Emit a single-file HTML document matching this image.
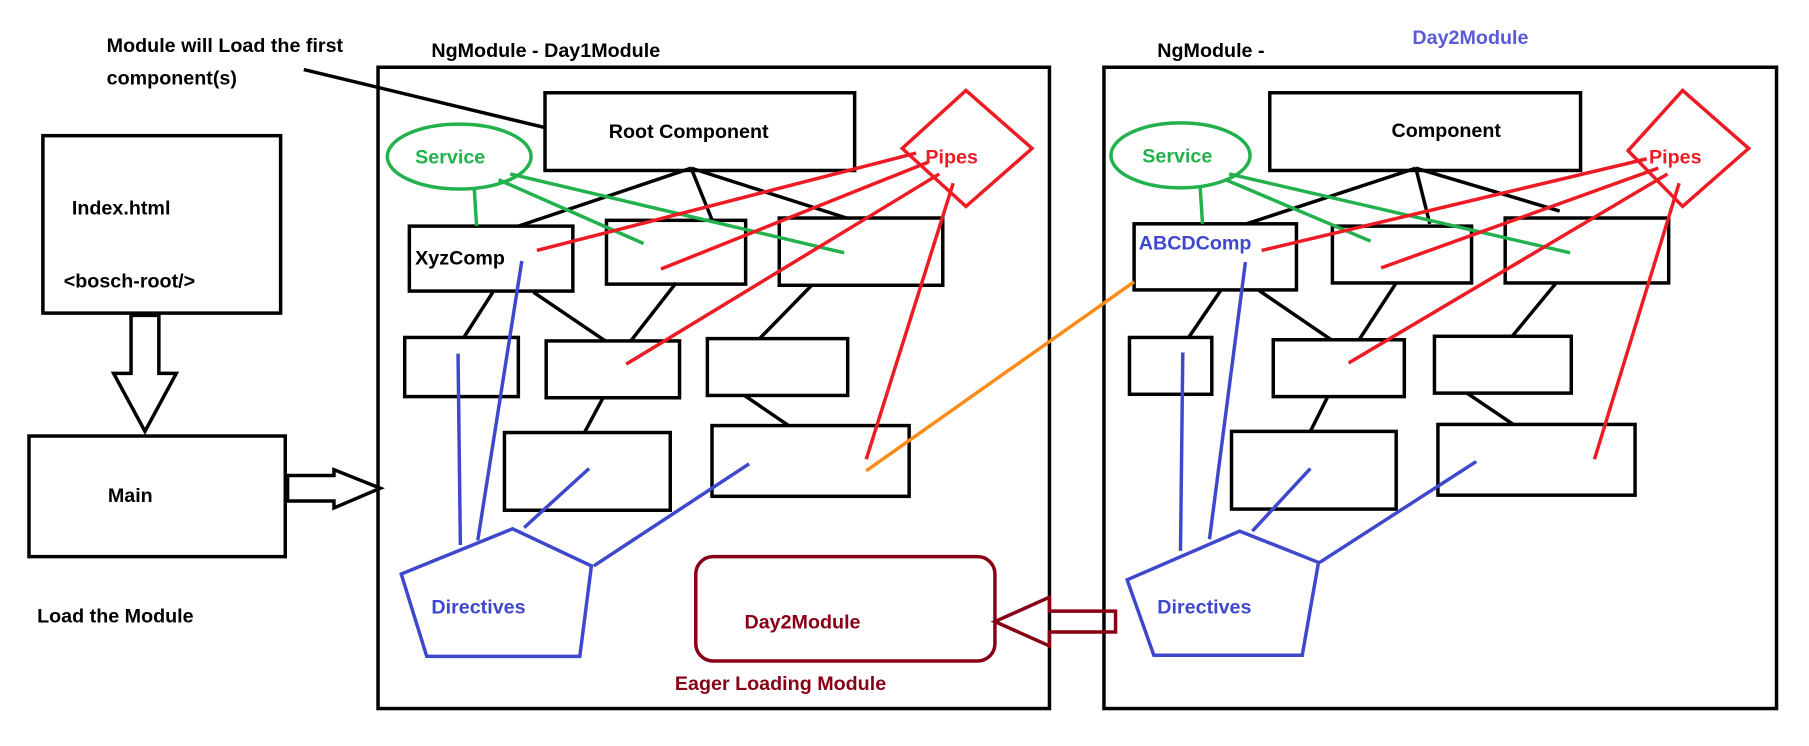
<!DOCTYPE html>
<html><head><meta charset="utf-8"><style>
html,body{margin:0;padding:0;background:#fff;}
svg{display:block;}
text{font-family:"Liberation Sans",sans-serif;font-weight:bold;font-size:17px;}
</style></head><body>
<svg width="1809" height="746" viewBox="0 0 1560 643.3" preserveAspectRatio="none" xmlns="http://www.w3.org/2000/svg">
<rect width="1560" height="644" fill="#fff"/>
<g fill="none" stroke="#000" stroke-width="3">
<rect x="326" y="58" width="579" height="553"/>
<rect x="952" y="58" width="580" height="553"/>
<rect x="37" y="117" width="205" height="153"/>
<rect x="25" y="376" width="221" height="104"/>
<polygon points="113,272 137,272 137,322 152,322 125,372 98,322 113,322"/>
<polygon points="248,410 288,410 288,405 328,421 288,438 288,432 248,432"/>
<line x1="262" y1="60" x2="470" y2="110"/>
<rect x="470" y="80" width="267" height="67"/>
<rect x="353" y="195" width="141" height="56"/>
<rect x="523" y="190" width="120" height="55"/>
<rect x="672" y="188" width="141" height="58"/>
<rect x="349" y="291" width="98" height="51"/>
<rect x="471" y="294" width="115" height="49"/>
<rect x="610" y="292" width="121" height="49"/>
<rect x="435" y="373" width="143" height="67"/>
<rect x="614" y="367" width="170" height="61"/>
<line x1="596" y1="145" x2="447" y2="195"/><line x1="596" y1="145" x2="615" y2="192"/><line x1="596" y1="145" x2="730" y2="188"/>
<line x1="425" y1="252" x2="400" y2="291"/><line x1="460" y1="252" x2="522" y2="294"/>
<line x1="583" y1="244" x2="544" y2="294"/><line x1="700" y1="246" x2="655" y2="292"/>
<line x1="520" y1="343" x2="504" y2="373"/><line x1="642" y1="341" x2="680" y2="367"/>
<rect x="1095" y="80" width="268" height="67"/>
<rect x="978" y="193" width="140" height="57"/>
<rect x="1149" y="195" width="120" height="49"/>
<rect x="1298" y="188" width="141" height="56"/>
<rect x="974" y="291" width="71" height="49"/>
<rect x="1098" y="293" width="113" height="49"/>
<rect x="1237" y="290" width="118" height="49"/>
<rect x="1062" y="372" width="142" height="67"/>
<rect x="1240" y="366" width="170" height="61"/>
<line x1="1221" y1="145" x2="1075" y2="193"/><line x1="1221" y1="145" x2="1233" y2="193"/><line x1="1221" y1="145" x2="1345" y2="182"/>
<line x1="1053" y1="250" x2="1025" y2="291"/><line x1="1085" y1="250" x2="1148" y2="293"/>
<line x1="1204" y1="244" x2="1172" y2="293"/><line x1="1342" y1="244" x2="1304" y2="290"/>
<line x1="1145" y1="342" x2="1130" y2="372"/><line x1="1265" y1="339" x2="1305" y2="366"/>
</g>
<g fill="none" stroke="#22b14c" stroke-width="3">
<ellipse cx="396" cy="135" rx="62" ry="28"/>
<line x1="409" y1="163" x2="411" y2="195"/><line x1="430" y1="155" x2="555" y2="210"/><line x1="440" y1="150" x2="728" y2="218"/>
<ellipse cx="1018" cy="134" rx="60" ry="28"/>
<line x1="1035" y1="162" x2="1037" y2="193"/><line x1="1057" y1="155" x2="1182" y2="208"/><line x1="1060" y1="150" x2="1354" y2="218"/>
</g>
<g fill="none" stroke="#ed1c24" stroke-width="3">
<polygon points="833,78 890,128 833,178 778,128"/>
<line x1="790" y1="132" x2="463" y2="216"/><line x1="800" y1="140" x2="570" y2="232"/><line x1="810" y1="150" x2="540" y2="314"/><line x1="822" y1="158" x2="747" y2="396"/>
<polygon points="1451,78 1508,128 1451,178 1404,130"/>
<line x1="1420" y1="137" x2="1088" y2="216"/><line x1="1430" y1="145" x2="1191" y2="231"/><line x1="1438" y1="150" x2="1163" y2="313"/><line x1="1448" y1="158" x2="1375" y2="396"/>
</g>
<line x1="747" y1="406" x2="978" y2="243" stroke="#ff8c1a" stroke-width="3"/>
<g fill="none" stroke="#3f48cc" stroke-width="3">
<polygon points="346,495 442,456 510,488 500,566 368,566"/>
<line x1="395" y1="305" x2="397" y2="470"/><line x1="450" y1="225" x2="412" y2="466"/><line x1="508" y1="404" x2="452" y2="455"/><line x1="646" y1="400" x2="512" y2="488"/>
<polygon points="972,500 1069,458 1137,485 1123,565 995,565"/>
<line x1="1020" y1="304" x2="1018" y2="475"/><line x1="1074" y1="226" x2="1043" y2="465"/><line x1="1130" y1="404" x2="1080" y2="458"/><line x1="1273" y1="398" x2="1138" y2="485"/>
</g>
<rect x="600" y="480" width="258" height="90" rx="15" fill="none" stroke="#880015" stroke-width="3"/>
<polygon points="962,527 962,545 905,545 905,557 858,536 905,515 905,527" fill="none" stroke="#880015" stroke-width="3"/>
<text x="92" y="45">Module will Load the first</text>
<text x="92" y="73">component(s)</text>
<text x="372" y="49" font-size="18">NgModule - Day1Module</text>
<text x="998" y="49" font-size="18">NgModule -</text>
<text x="1218" y="38" fill="#5a5ad8">Day2Module</text>
<text x="62" y="185">Index.html</text>
<text x="55" y="248">&lt;bosch-root/&gt;</text>
<text x="93" y="433">Main</text>
<text x="32" y="537">Load the Module</text>
<text x="525" y="119">Root Component</text>
<text x="1200" y="118">Component</text>
<text x="358" y="141" fill="#22b14c">Service</text>
<text x="985" y="140" fill="#22b14c">Service</text>
<text x="798" y="141" fill="#ed1c24">Pipes</text>
<text x="1422" y="141" fill="#ed1c24">Pipes</text>
<text x="358" y="228">XyzComp</text>
<text x="982" y="215" fill="#3f48cc">ABCDComp</text>
<text x="372" y="529" fill="#3f48cc">Directives</text>
<text x="998" y="529" fill="#3f48cc">Directives</text>
<text x="642" y="542" fill="#880015">Day2Module</text>
<text x="582" y="595" fill="#880015">Eager Loading Module</text>
</svg>
</body></html>
